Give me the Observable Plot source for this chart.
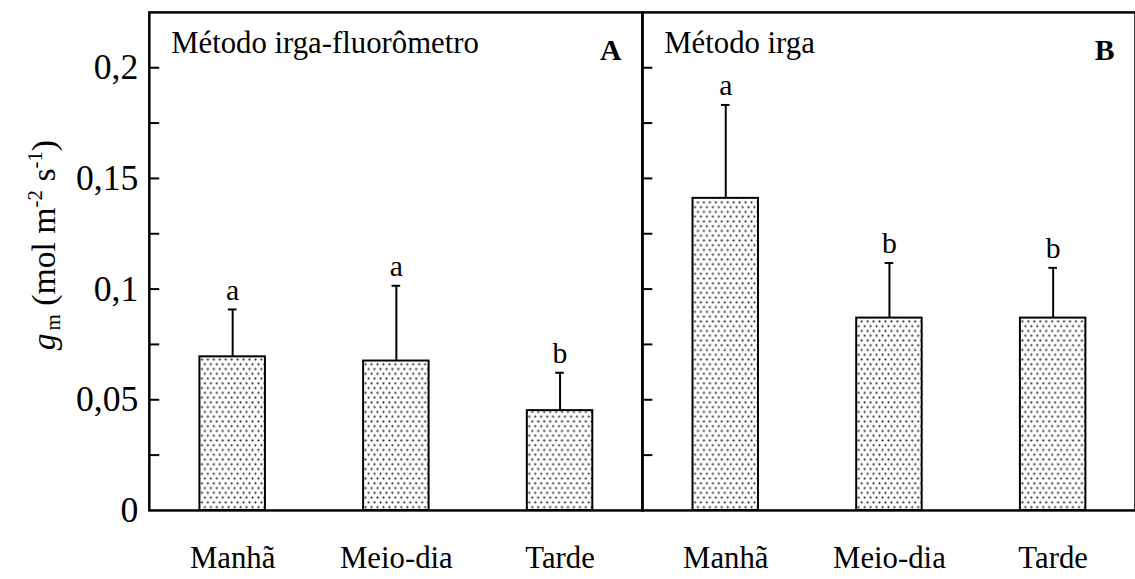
<!DOCTYPE html>
<html>
<head>
<meta charset="utf-8">
<script src="https://cdn.jsdelivr.net/npm/d3@7"></script>
<script src="https://cdn.jsdelivr.net/npm/@observablehq/plot@0.6"></script>
<style>
  body { margin: 0; background: #fff; }
  #chart { width: 1135px; height: 579px; overflow: hidden; }
</style>
</head>
<body>
<div id="chart"></div>
<script>
// Mesophyll conductance (g_m) by period of the day, two estimation methods
const periods = ["Manhã", "Meio-dia", "Tarde"];
const panels = ["A", "B"];
const panelTitles = ["Método irga-fluorômetro", "Método irga"];

const meanA = [0.0694, 0.0675, 0.0451];
const sdA = [0.0214, 0.0340, 0.0171];
const letterA = ["a", "a", "b"];

const meanB = [0.1410, 0.0869, 0.0869];
const sdB = [0.0422, 0.0249, 0.0227];
const letterB = ["a", "b", "b"];

const yLabelTicks = [0, 0.05, 0.1, 0.15, 0.2];
const yMarkTicks = [0.025, 0.05, 0.075, 0.1, 0.125, 0.15, 0.175, 0.2];

const rows = [
  ...periods.map((p, i) => ({panel: "A", period: p, mean: meanA[i], sd: sdA[i], letter: letterA[i]})),
  ...periods.map((p, i) => ({panel: "B", period: p, mean: meanB[i], sd: sdB[i], letter: letterB[i]}))
];
const panelRows = panels.map((p, i) => ({panel: p, title: panelTitles[i]}));

const serif = "Liberation Serif";
const marginLeft = 149;
const facetW = 497.5;
const plotWidth = marginLeft + facetW * panels.length;
const step = facetW / 3;
const bandW = step * 0.4;
const capHalf = 4.5;
const errTop = d => d.mean + d.sd;

const svg = Plot.plot({
  width: plotWidth,
  height: 579,
  marginLeft,
  marginRight: 0,
  marginTop: 12,
  marginBottom: 65,
  style: {fontFamily: serif, fontSize: "32px", color: "#000", background: "#fff"},
  fx: {domain: panels, padding: 0, axis: null},
  x: {domain: periods, paddingInner: 0.6, paddingOuter: 0.3},
  y: {domain: [0, 0.225]},
  marks: [
    Plot.barY(rows, {fx: "panel", x: "period", y: "mean", fill: "url(#dots)", stroke: "#000", strokeWidth: 2}),
    Plot.ruleX(rows, {fx: "panel", x: "period", y1: "mean", y2: errTop, stroke: "#000", strokeWidth: 2}),
    Plot.tickY(rows, {fx: "panel", x: "period", y: errTop, stroke: "#000", strokeWidth: 2,
      insetLeft: bandW / 2 - capHalf, insetRight: bandW / 2 - capHalf}),
    Plot.text(rows, {fx: "panel", x: "period", y: errTop, text: "letter", dy: -10, lineAnchor: "bottom",
      fontSize: 30}),
    Plot.tickY(yMarkTicks, {y: d => d, insetRight: facetW - 11, stroke: "#000", strokeWidth: 2}),
    Plot.text(panelRows, {fx: "panel", text: "title", frameAnchor: "top-left", textAnchor: "start",
      lineAnchor: "top", dx: 22, dy: 19, fontSize: 31}),
    Plot.text(panelRows, {fx: "panel", text: "panel", frameAnchor: "top-right", textAnchor: "end",
      lineAnchor: "top", dx: -21, dy: 27, fontSize: 30, fontWeight: "bold"}),
    Plot.frame({stroke: "#000", strokeWidth: 2.5}),
    Plot.axisY({ticks: yLabelTicks, tickFormat: d => String(d).replace(".", ","), tickSize: 0,
      tickPadding: 11, fontSize: 36, label: null}),
    Plot.axisX({tickSize: 0, tickPadding: 36, fontSize: 31, label: null})
  ]
});

// dotted fill used by the bars
const defs = d3.select(svg).insert("defs", ":first-child");
const pat = defs.append("pattern").attr("id", "dots")
  .attr("patternUnits", "userSpaceOnUse").attr("width", 6).attr("height", 9.6);
pat.append("rect").attr("width", 6).attr("height", 9.6).attr("fill", "#fff");
pat.append("circle").attr("cx", 1.5).attr("cy", 2.4).attr("r", 1.1).attr("fill", "#333");
pat.append("circle").attr("cx", 4.5).attr("cy", 7.2).attr("r", 1.1).attr("fill", "#333");

// y-axis title with italic g, subscript and superscripts
const lab = d3.select(svg).append("text")
  .attr("transform", "translate(55,247) rotate(-90)")
  .attr("text-anchor", "middle")
  .attr("font-size", 34)
  .attr("fill", "#000");
lab.append("tspan").attr("font-style", "italic").text("g");
lab.append("tspan").attr("font-size", 21).attr("dx", 3).attr("dy", 5).text("m");
lab.append("tspan").attr("dy", -5).text(" (mol m");
lab.append("tspan").attr("font-size", 21).attr("dy", -13).text("-2");
lab.append("tspan").attr("dy", 13).text(" s");
lab.append("tspan").attr("font-size", 21).attr("dy", -13).text("-1");
lab.append("tspan").attr("dy", 13).text(")");

// every label in the same Times-style serif face
d3.select(svg).selectAll("g, text, tspan")
  .attr("font-family", serif)
  .style("font-family", "'Liberation Serif', serif", "important");

document.getElementById("chart").appendChild(svg);
</script>
</body>
</html>
